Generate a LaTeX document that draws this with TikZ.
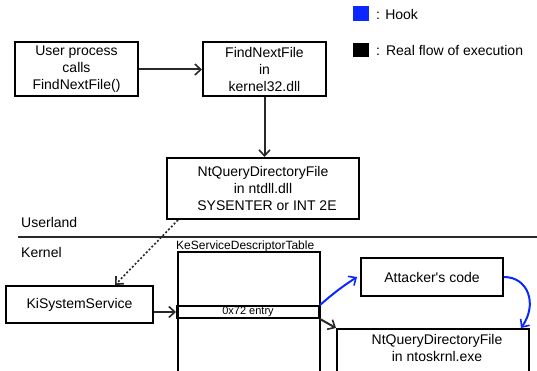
\documentclass[tikz,border=0pt]{standalone}
\usepackage{fontspec}
\setmainfont{Liberation Sans}[Ligatures=TeXOff]
\usetikzlibrary{arrows.meta}
\definecolor{hookblue}{RGB}{10,40,255}
\definecolor{flowgray}{RGB}{40,40,40}
\begin{document}
\begin{tikzpicture}[x=1pt,y=-1pt,
  box/.style={draw=black, line width=2pt, inner sep=0pt, align=center,
    font=\fontsize{14}{17}\selectfont},
  txt/.style={inner sep=0pt, font=\fontsize{14}{17}\selectfont},
  tip/.style={-{Straight Barb[length=6pt,width=11pt,line width=1.6pt]}},
  flow/.style={draw=flowgray, line width=2pt, tip},
  hook/.style={draw=hookblue, line width=2pt, tip}]
\clip (0,0) rectangle (537,371);

% legend
\fill[hookblue] (353,6) rectangle (369,21);
\node[txt, anchor=west] (lhook) at (376,14) {: Hook};
\fill[black] (353,43) rectangle (369,57);
\node[txt, anchor=west] (lreal) at (376,50) {:\hspace{6pt}Real flow of execution};

% user-mode call chain
\node[box, minimum width=123pt, minimum height=54pt] (user) at (76.5,69.5)
  {User process\\calls\\FindNextFile()};
\node[box, minimum width=123pt, minimum height=54pt] (k32) at (264.5,69.5)
  {FindNextFile\\in\\kernel32.dll};
\node[box, minimum width=192pt, minimum height=61pt] (ntdll) at (263,188.5)
  {NtQueryDirectoryFile\\in ntdll.dll\\\hspace*{8pt}SYSENTER or INT 2E};

% user / kernel boundary
\node[txt, anchor=west] (uland) at (21,222) {Userland};
\node[txt, anchor=west] (kland) at (21,252) {Kernel};
\coordinate (bl) at (18,237);
\coordinate (br) at (540,237);
\draw[flowgray, line width=2pt] (bl) -- (br);

% kernel side
\node[box, minimum width=147pt, minimum height=37pt] (kiss) at (79.5,304.5)
  {KiSystemService};
\node[draw=black, line width=2pt, inner sep=0pt, minimum width=142pt,
  minimum height=135pt, anchor=north west] (ksdt) at (177,251) {};
\node[inner sep=0pt, anchor=base west, font=\fontsize{12}{12}\selectfont]
  (ksdtlabel) at (176,249) {KeServiceDescriptorTable};
\node[draw=black, line width=2pt, inner sep=0pt, minimum width=142pt,
  minimum height=12pt, font=\fontsize{11}{11}\selectfont] (entry) at (248,312)
  {0x72 entry};
\node[box, minimum width=142pt, minimum height=38pt] (atk) at (432,277)
  {Attacker's code};
\node[draw=black, line width=2pt, inner sep=0pt, minimum width=192pt,
  minimum height=70pt, anchor=north] (ntos) at (433,328) {};
\node[txt, align=center, anchor=north] (ntostxt) at (437,334)
  {NtQueryDirectoryFile\\in ntoskrnl.exe};

% connectors
\draw[flow] (user) -- (k32);
\draw[flow] (k32.south) -- (k32.south |- ntdll.north);
\coordinate (dstart) at (178,220);
\coordinate (dend) at (115,285);
\draw[flow, dotted, line width=1.6pt] (dstart) -- (dend);
\draw[flow] (kiss.east |- entry.west) -- (entry.west);
\draw[hook] (entry.north east) to[bend left=4] ([xshift=-3pt]atk.west);
\draw[flow] (entry.south east) -- (ntos.north west);
\draw[hook] (atk.east) .. controls (528,277) and (538,304) .. ([xshift=-9pt]ntos.north east);
\end{tikzpicture}
\end{document}
